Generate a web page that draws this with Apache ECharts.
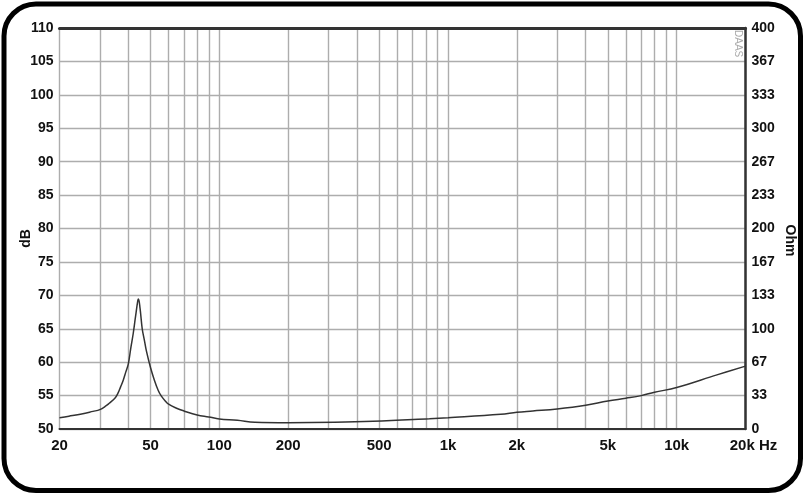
<!DOCTYPE html>
<html><head><meta charset="utf-8">
<script src="https://cdn.jsdelivr.net/npm/echarts@6/dist/echarts.min.js"></script>
<style>html,body{margin:0;padding:0;background:#fff}#c{width:805px;height:494px}</style>
</head><body><div id="c"></div>
<script>
// Frequencies (Hz) and impedance (Ohm)
const freqs = [20,22,25,28,30,32,33,35,36,37,38,39,40,41,42,43,44,44.3,45,46,47,48,50,52,54,55.6,58,60,65,70,80,90,100,120,143,200,320,470,830,1000,1700,2000,2350,3000,4000,5000,6000,7000,8000,10000,15000,20000];
const ohms  = [11.3,12.8,15,17.6,19.3,23.2,25.7,31,35.5,42,48.7,57,65,80.7,95,112,128,129.7,120.6,100,88.7,77.6,61.3,48.7,38.7,33.3,28,24.7,20.7,18,14,12,10,8.7,6.7,6.3,6.7,7.7,10.3,11.3,14.7,16.7,18,20,23.7,28,30.7,33.3,36.7,41.3,54,62.7];
const gridFreqs = [20,30,40,50,60,70,80,90,100,200,300,400,500,600,700,800,900,1000,2000,3000,4000,5000,6000,7000,8000,9000,10000,20000];
const labelFreqs = [20,50,100,200,500,1000,2000,5000,10000,20000];
const labelText = {20:'20',50:'50',100:'100',200:'200',500:'500',1000:'1k',2000:'2k',5000:'5k',10000:'10k',20000:'{hz|20k Hz}'};

const chart = echarts.init(document.getElementById('c'));
const font = '"Liberation Sans", Arial, sans-serif';
const narrow = '"Liberation Sans Narrow", "Arial Narrow", "Liberation Sans", Arial, sans-serif';
const pts = freqs.map((f,i)=>[f, ohms[i]]);
const xLabelStyle = {color:'#111', fontFamily:narrow, fontWeight:'bold', fontSize:15};
chart.setOption({
  animation:false,
  backgroundColor:'#fff',
  grid:{left:59.5,right:59.5,top:28,bottom:65},
  xAxis:[{
    type:'log', logBase:10, min:20, max:20000, offset:3,
    axisLine:{show:true,lineStyle:{color:'#333',width:2}},
    axisTick:{show:false, customValues:gridFreqs},
    splitLine:{show:true,lineStyle:{color:'#adadad',width:1.4}},
    axisLabel:Object.assign({customValues:labelFreqs, margin:6,
      formatter:v=>labelText[Math.round(v)]||'',
      rich:{hz:Object.assign({padding:[0,0,0,16]}, xLabelStyle)}}, xLabelStyle)
  },{
    type:'log', logBase:10, min:20, max:20000, position:'top',
    axisLine:{show:true,lineStyle:{color:'#333',width:3}},
    axisTick:{show:false}, axisLabel:{show:false}, splitLine:{show:false}
  }],
  yAxis:[{
    type:'value', min:50, max:110, interval:5, position:'left',
    name:'dB', nameLocation:'middle', nameGap:26, nameRotate:90, nameMoveOverlap:false,
    nameTextStyle:{color:'#111',fontFamily:font,fontWeight:'bold',fontSize:14,padding:[0,20,0,0]},
    axisLine:{show:false}, axisTick:{show:false},
    splitLine:{show:true,lineStyle:{color:'#adadad',width:1.4}},
    axisLabel:{margin:6,color:'#111',fontFamily:font,fontWeight:'bold',fontSize:14}
  },{
    type:'value', min:0, max:400, interval:400/12, position:'right',
    name:'Ohm', nameLocation:'middle', nameGap:37, nameRotate:-90, nameMoveOverlap:false,
    nameTextStyle:{color:'#111',fontFamily:font,fontWeight:'bold',fontSize:14,padding:[0,0,0,24]},
    axisLine:{show:true,lineStyle:{color:'#333',width:2.5}}, axisTick:{show:false},
    splitLine:{show:false},
    axisLabel:{margin:6,color:'#111',fontFamily:font,fontWeight:'bold',fontSize:14,formatter:v=>String(Math.round(v))}
  }],
  series:[{
    type:'line', xAxisIndex:0, yAxisIndex:1, data:pts, showSymbol:false,
    smooth:0.4,
    lineStyle:{color:'#333',width:1.5}
  }],
  graphic:[
    {type:'rect', shape:{x:4,y:4,width:796.5,height:486.5,r:32}, style:{fill:null,stroke:'#000',lineWidth:5}, silent:true},
    {type:'text', x:743, y:30, rotation:-Math.PI/2, style:{text:'DAAS', fill:'#aaa', font:'10px '+font}, silent:true}
  ]
});
</script></body></html>
